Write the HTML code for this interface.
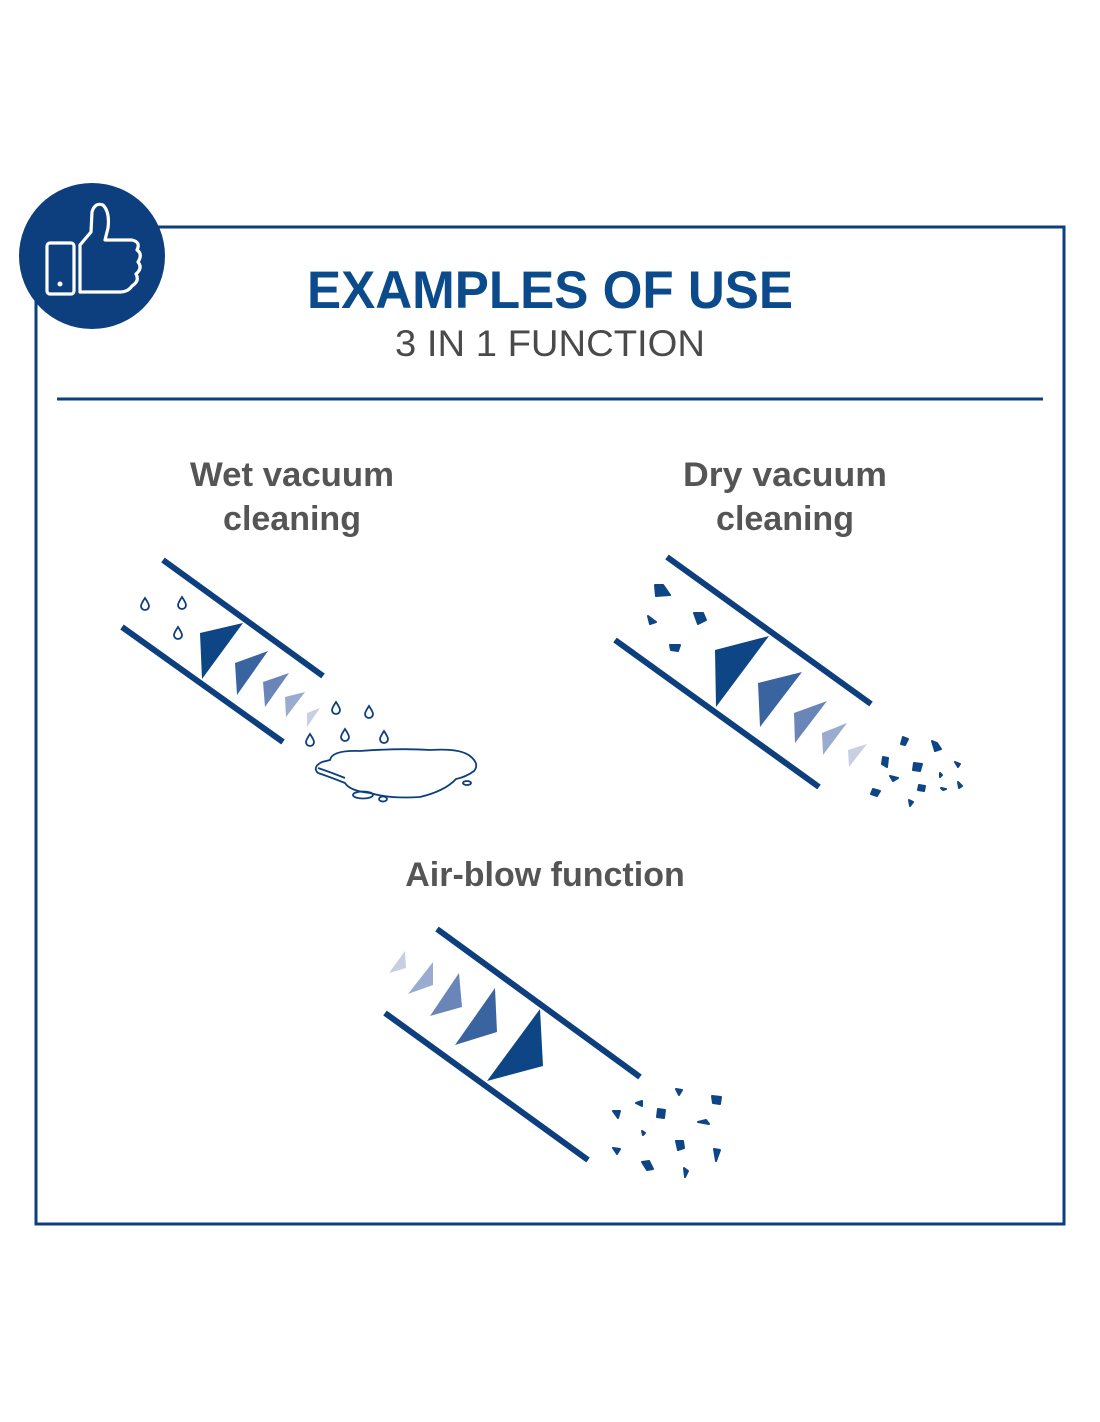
<!DOCTYPE html>
<html><head><meta charset="utf-8"><style>
html,body{margin:0;padding:0;background:#fff}
svg{display:block}
text{font-family:"Liberation Sans",sans-serif}
</style></head><body>
<svg width="1100" height="1422" viewBox="0 0 1100 1422" xmlns="http://www.w3.org/2000/svg">
<rect x="36" y="227" width="1028" height="997" fill="none" stroke="#0d3f7f" stroke-width="3"/>
<circle cx="92" cy="256" r="73" fill="#0d3f7f"/>
<g fill="none" stroke="#fff" stroke-width="3.2" stroke-linejoin="round">
<rect x="47" y="243" width="27" height="51" rx="3"/>
<path d="M80 245 L91 232 L92 212 Q95 202 103 205 Q110 212 108 228 L105 240 L132 240 Q141 242 137 250 Q143 254 138 262 Q143 268 136 274 Q140 281 132 286 Q128 292 120 292 L80 292 Z"/>
</g>
<circle cx="60" cy="284" r="2.5" fill="#fff"/>
<text x="550" y="308" text-anchor="middle" font-size="53" font-weight="bold" fill="#0b4a8b" textLength="486" lengthAdjust="spacingAndGlyphs">EXAMPLES OF USE</text>
<text x="550" y="356" text-anchor="middle" font-size="37" fill="#4a4a4a" textLength="310" lengthAdjust="spacingAndGlyphs">3 IN 1 FUNCTION</text>
<line x1="57" y1="399" x2="1043" y2="399" stroke="#0d3f7f" stroke-width="3"/>
<g font-size="34" font-weight="bold" fill="#555" text-anchor="middle">
<text x="292" y="486" textLength="204" lengthAdjust="spacingAndGlyphs">Wet vacuum</text>
<text x="292" y="530">cleaning</text>
<text x="785" y="486" textLength="204" lengthAdjust="spacingAndGlyphs">Dry vacuum</text>
<text x="785" y="530">cleaning</text>
<text x="545" y="886">Air-blow function</text>
</g>
<g stroke="#0d3f7f" stroke-width="6">
<line x1="163" y1="560" x2="323" y2="676"/><line x1="122" y1="627" x2="283" y2="742"/>
<line x1="667" y1="557" x2="871" y2="704"/><line x1="615" y1="640" x2="819" y2="787"/>
<line x1="437" y1="929" x2="640" y2="1077"/><line x1="385" y1="1013" x2="588" y2="1160"/>
</g>
<polygon points="200,633 243,623 202,679" fill="#0d4585"/>
<polygon points="235,663 268,651 237,695" fill="#3a64a0"/>
<polygon points="263,682 289,673 265,707" fill="#6a86b8"/>
<polygon points="285,697 305,692 286,717" fill="#9aabd0"/>
<polygon points="307,713 320,708 307,727" fill="#c8cfe2"/>
<g fill="none" stroke="#0d3f7f" stroke-width="1.8">
<path d="M0,-6 Q4,0 4,2 A4,4 0 1 1 -4,2 Q-4,0 0,-6Z" transform="translate(145,604)"/>
<path d="M0,-6 Q4,0 4,2 A4,4 0 1 1 -4,2 Q-4,0 0,-6Z" transform="translate(182,603)"/>
<path d="M0,-6 Q4,0 4,2 A4,4 0 1 1 -4,2 Q-4,0 0,-6Z" transform="translate(178,633)"/>
<path d="M0,-6 Q4,0 4,2 A4,4 0 1 1 -4,2 Q-4,0 0,-6Z" transform="translate(336,708)"/>
<path d="M0,-6 Q4,0 4,2 A4,4 0 1 1 -4,2 Q-4,0 0,-6Z" transform="translate(369,712)"/>
<path d="M0,-6 Q4,0 4,2 A4,4 0 1 1 -4,2 Q-4,0 0,-6Z" transform="translate(310,740)"/>
<path d="M0,-6 Q4,0 4,2 A4,4 0 1 1 -4,2 Q-4,0 0,-6Z" transform="translate(345,735)"/>
<path d="M0,-6 Q4,0 4,2 A4,4 0 1 1 -4,2 Q-4,0 0,-6Z" transform="translate(384,737)"/>
<path d="M330 760 Q332 750 360 751 Q400 748 430 750 Q460 748 470 756 Q480 764 474 771 Q466 777 456 779 Q445 791 420 797 Q390 799 370 793 Q350 791 345 783 Q330 777 318 773 Q312 767 322 762 Z"/>
<path d="M318 768 Q330 772 345 778"/>
<ellipse cx="363" cy="795" rx="10" ry="3.5"/><ellipse cx="383" cy="799" rx="4" ry="2.5"/><ellipse cx="467" cy="783" rx="4" ry="2"/>
</g>
<polygon points="715,650 769,636 716,707" fill="#0d4585"/>
<polygon points="758,683 802,672 760,727" fill="#3a64a0"/>
<polygon points="794,713 827,701 795,743" fill="#6a86b8"/>
<polygon points="822,733 847,723 823,755" fill="#9aabd0"/>
<polygon points="848,750 867,744 849,767" fill="#c8cfe2"/>
<g fill="#0d4585" stroke="#0d4585" stroke-width="2" stroke-linejoin="round">
<polygon points="655,585 663,585 670,595 656,596"/><polygon points="648,616 656,622 650,624"/>
<polygon points="694,613 703,613 706,620 698,624"/><polygon points="670,645 680,645 678,651 671,650"/>
<polygon points="903,737 908,739 905,745 901,744"/><polygon points="932,741 937,743 941,749 935,751"/>
<polygon points="883,757 888,758 887,767 882,764"/><polygon points="914,763 922,764 920,771 913,770"/>
<polygon points="955,762 960,764 958,767"/><polygon points="890,776 898,778 893,781"/>
<polygon points="919,785 925,786 924,791 918,790"/><polygon points="958,782 962,786 959,788"/>
<polygon points="873,789 880,791 877,796 871,794"/><polygon points="909,800 913,802 910,806"/>
<polygon points="940,773 942,775 940,777"/><polygon points="941,788 946,789 943,790"/>
</g>
<polygon points="487,1081 540,1009 543,1066" fill="#0d4585"/>
<polygon points="455,1045 495,988 497,1032" fill="#3a64a0"/>
<polygon points="430,1016 459,973 462,1007" fill="#6a86b8"/>
<polygon points="408,994 433,962 433,985" fill="#9aabd0"/>
<polygon points="389,973 405,951 406,968" fill="#c8cfe2"/>
<g fill="#0d4585" stroke="#0d4585" stroke-width="2" stroke-linejoin="round">
<polygon points="613,1111 620,1111 618,1118"/><polygon points="636,1103 642,1101 642,1106"/>
<polygon points="658,1109 665,1110 664,1118 657,1117"/><polygon points="676,1089 682,1090 679,1095"/>
<polygon points="712,1096 721,1097 720,1104 713,1103"/><polygon points="698,1122 706,1120 709,1124"/>
<polygon points="642,1131 645,1133 643,1135"/><polygon points="676,1141 683,1141 684,1148 678,1150"/>
<polygon points="714,1149 720,1150 716,1161"/><polygon points="613,1148 620,1149 617,1154"/>
<polygon points="642,1162 649,1161 653,1169 647,1170"/><polygon points="684,1168 688,1171 685,1177"/>
</g>
</svg>
</body></html>
